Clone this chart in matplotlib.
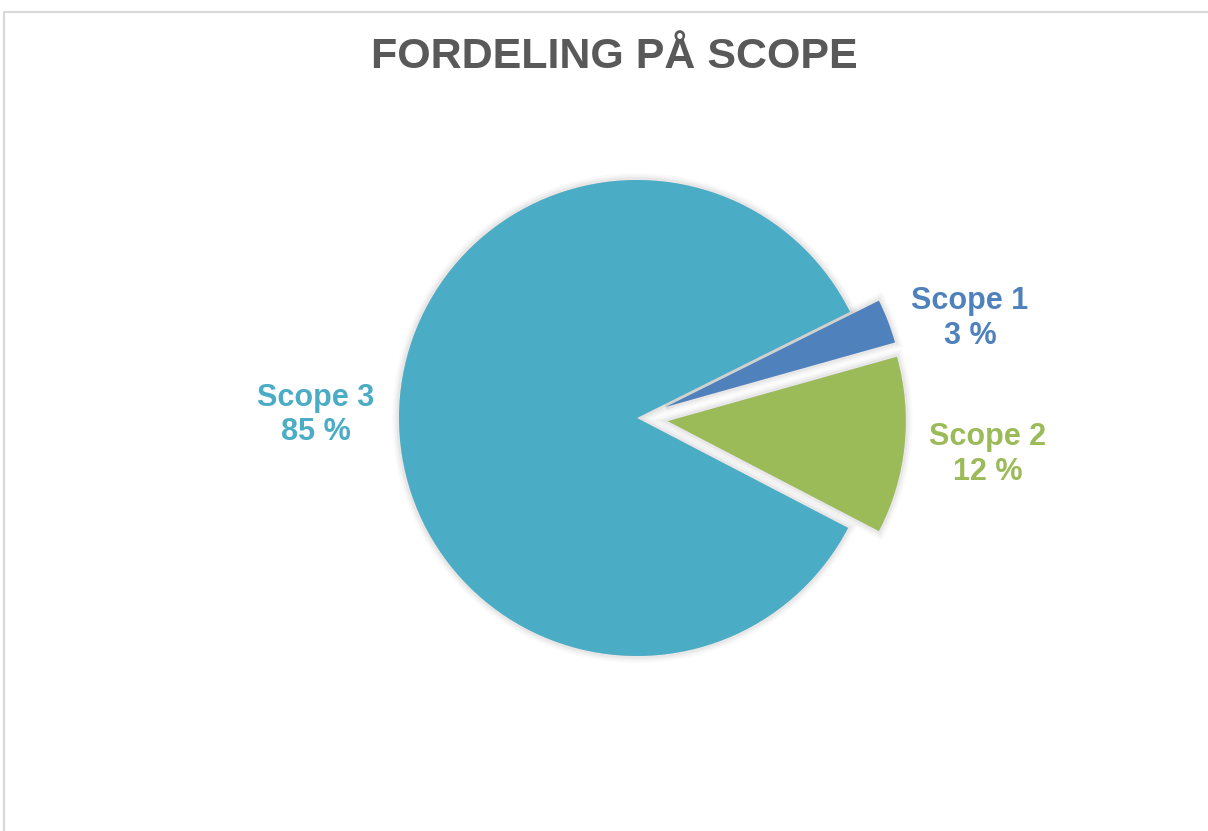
import numpy as np
import matplotlib.pyplot as plt
from matplotlib.patches import Rectangle

plt.rcParams['font.family'] = ['Liberation Sans', 'DejaVu Sans']

# data
labels = ['Scope 1', 'Scope 2', 'Scope 3']
values = [3, 12, 85]
colors = ['#4F81BD', '#9BBB59', '#4BACC6']
explode = [0.13, 0.13, 0.0]

W, H = 1208, 831
cx, cy, R = 637, 418, 238  # pie centre and radius in pixels

fig = plt.figure(figsize=(W / 100, H / 100), dpi=100)
ax = fig.add_axes([0, 0, 1, 1])
ax.axis('off')

# soft shadow: a few widened copies under the slices
for lw, a in [(10, 0.02), (7, 0.03), (4, 0.045)]:
    sh, _ = ax.pie(values, explode=explode, startangle=26.5, counterclock=False,
                   radius=1.0, normalize=True,
                   wedgeprops=dict(facecolor='black', edgecolor='black',
                                   linewidth=lw, alpha=a))
    for w in sh:
        w.set_zorder(1)

wedges, _ = ax.pie(values, explode=explode, colors=colors, startangle=26.5,
                   counterclock=False, radius=1.0, normalize=True,
                   wedgeprops=dict(linewidth=0))
for w in wedges:
    w.set_zorder(2)
ax.set_xlim(-cx / R, (W - cx) / R)
ax.set_ylim(-(H - cy) / R, cy / R)
ax.set_aspect('auto')

# data labels
dist = [1.46, 1.48, 1.35]
dang = [-4.5, 0.0, 0.0]
for w, lab, v, c, d, da in zip(wedges, labels, values, colors, dist, dang):
    ang = np.deg2rad((w.theta1 + w.theta2) / 2 + da)
    ax.text(d * np.cos(ang), d * np.sin(ang), f'{lab}\n{v} %',
            ha='center', va='center', fontsize=22, fontweight='bold',
            color=c, linespacing=1.2, zorder=3)

fig.text(614 / W, 1 - 57 / H, 'FORDELING PÅ SCOPE', ha='center', va='center',
         fontsize=31, fontweight='bold', color='#595959')

# chart border
fig.patches.append(Rectangle((3.5 / W, -0.01), 1.1, 1 - 11.5 / H + 0.01,
                             transform=fig.transFigure, fill=False,
                             edgecolor='#D9D9D9', linewidth=1.5))

fig.savefig('out.png', dpi=100, facecolor='white')
